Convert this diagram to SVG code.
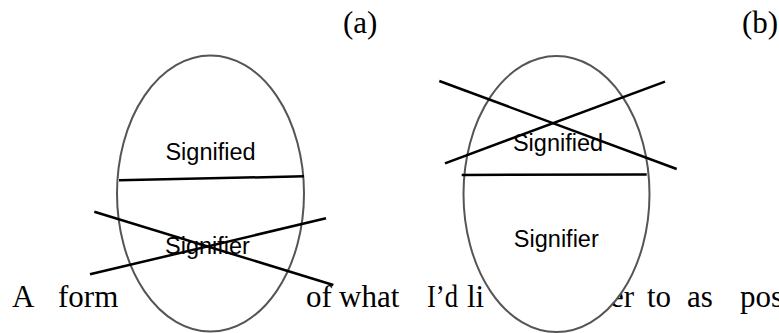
<svg xmlns="http://www.w3.org/2000/svg" width="779" height="333" viewBox="0 0 779 333">
<style>
.body{font-family:"Liberation Serif","Times New Roman",serif;font-size:31px;fill:#000}
.lbl{font-family:"Liberation Sans",Arial,sans-serif;font-size:23.5px;fill:#000;text-anchor:middle}
.egg{fill:#fff;stroke:#555;stroke-width:2}
.ln{stroke:#000;stroke-width:2.5;fill:none}
</style>
<rect width="779" height="333" fill="#fff"/>
<g id="body-text">
<text class="body" x="343" y="33">(a)</text>
<text class="body" x="742" y="33">(b)</text>
<text class="body" x="12" y="307">A</text>
<text class="body" x="58" y="307">form</text>
<text class="body" x="306" y="307">of</text>
<text class="body" x="339" y="307">what</text>
<text class="body" x="427" y="307" textLength="31" lengthAdjust="spacingAndGlyphs">I’d</text>
<text class="body" x="467" y="307">li</text>
<text class="body" x="610" y="307">er</text>
<text class="body" x="647" y="307">to</text>
<text class="body" x="687" y="307">as</text>
<text class="body" x="740" y="307">pos</text>
</g>
<g id="sign-a">
<ellipse class="egg" cx="210.5" cy="193.5" rx="93.5" ry="138"/>
<text class="lbl" x="210.5" y="160">Signified</text>
<text class="lbl" x="207.5" y="254">Signifier</text>
</g>
<g id="sign-b">
<ellipse class="egg" cx="556.5" cy="194" rx="93" ry="138"/>
<text class="lbl" x="558" y="151">Signified</text>
<text class="lbl" x="556.3" y="247">Signifier</text>
</g>
<g id="connectors">
<line class="ln" x1="119" y1="180.3" x2="304" y2="176.3"/>
<line class="ln" x1="94.3" y1="211.7" x2="333.3" y2="285"/>
<line class="ln" x1="90" y1="274.3" x2="326" y2="218.3"/>
<line class="ln" x1="461.7" y1="175" x2="646.7" y2="174.5"/>
<line class="ln" x1="439.3" y1="81" x2="676.7" y2="169"/>
<line class="ln" x1="445" y1="163.3" x2="665" y2="81.7"/>
</g>
</svg>
